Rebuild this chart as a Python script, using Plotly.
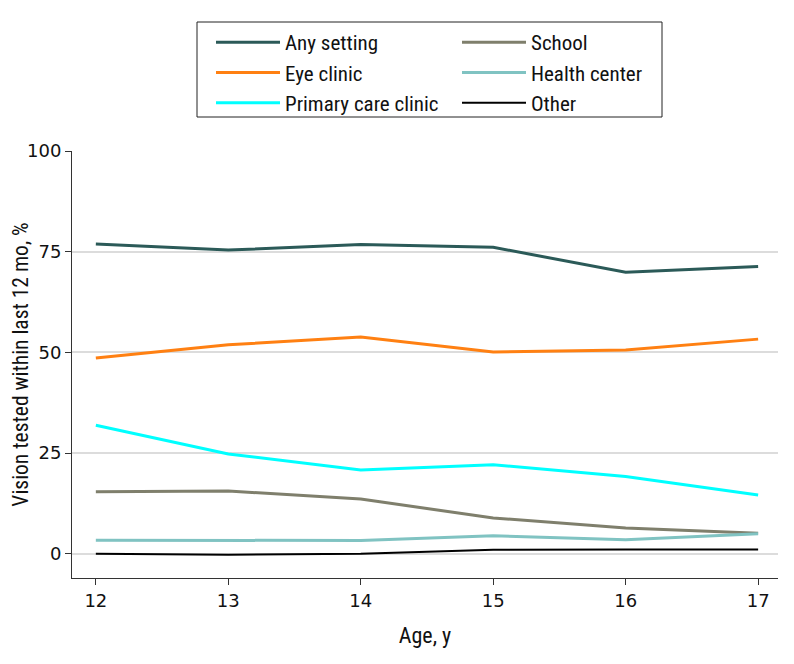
import plotly.graph_objects as go

ages = [12, 13, 14, 15, 16, 17]
any_setting = [76.9, 75.4, 76.8, 76.1, 69.9, 71.3]
eye_clinic = [48.6, 51.9, 53.8, 50.1, 50.6, 53.3]
primary_care = [31.9, 24.8, 20.8, 22.1, 19.2, 14.6]
school = [15.4, 15.6, 13.6, 8.9, 6.4, 5.1]
health_center = [3.4, 3.3, 3.3, 4.5, 3.5, 5.0]
other = [0.0, -0.2, 0.0, 1.0, 1.1, 1.1]

y_ticks = [0, 25, 50, 75, 100]

TEXT_FONT = "Roboto Condensed, DejaVu Sans Condensed, sans-serif"
TICK_FONT = "DejaVu Sans, sans-serif"

series = [
    ("Any setting", any_setting, "#2b5a58", 3),
    ("School", school, "#7f7f6c", 3),
    ("Eye clinic", eye_clinic, "#ff8012", 3),
    ("Health center", health_center, "#80c3c2", 3),
    ("Primary care clinic", primary_care, "#00ffff", 3),
    ("Other", other, "#000000", 2),
]

fig = go.Figure()
for name, vals, color, w in series:
    fig.add_trace(go.Scatter(x=ages, y=vals, mode="lines", name=name,
                             line=dict(color=color, width=w)))

# plot area on screen: x 72..778, y 151..578 (page has an 8px body margin)
PX0, PW, PY1, PH = 72, 706, 578, 427

def px(x):
    return (x - PX0) / PW

def py(y):
    return (PY1 - y) / PH

# legend frame
fig.add_shape(type="rect", xref="paper", yref="paper",
              x0=px(197), x1=px(662), y0=py(117), y1=py(22),
              line=dict(color="#222222", width=1), fillcolor="rgba(0,0,0,0)")

fig.update_layout(
    width=786, height=656,
    margin=dict(l=64, r=16, t=143, b=86, autoexpand=False),
    paper_bgcolor="white", plot_bgcolor="white",
    font=dict(family=TEXT_FONT, size=21, color="#111111"),
    showlegend=True,
    legend=dict(
        orientation="h", x=px(211), xanchor="left",
        y=py(22), yanchor="top",
        borderwidth=0, bgcolor="rgba(0,0,0,0)",
        font=dict(family=TEXT_FONT, size=21, color="#111111"),
        itemwidth=64, entrywidth=167,
        traceorder="normal",
    ),
    xaxis=dict(range=[11.82, 17.15], tickvals=ages, showgrid=False,
               showline=True, linecolor="#333333", linewidth=1,
               ticks="outside", ticklen=6, tickcolor="#333333",
               tickfont=dict(family=TICK_FONT, size=18, color="#111111"),
               automargin=False,
               title=dict(text="Age, y", standoff=18,
                          font=dict(family=TEXT_FONT, size=22)),
               zeroline=False),
    yaxis=dict(range=[-6, 100], tickvals=y_ticks, showgrid=True,
               gridcolor="#dcdcdc", gridwidth=1.5,
               showline=True, linecolor="#333333", linewidth=1,
               ticks="outside", ticklen=6, tickcolor="#333333",
               tickfont=dict(family=TICK_FONT, size=18, color="#111111"),
               automargin=False,
               title=dict(text="Vision tested within last 12 mo, %", standoff=16,
                          font=dict(family=TEXT_FONT, size=21.5)),
               zeroline=False),
)

fig.write_html("out.html")
